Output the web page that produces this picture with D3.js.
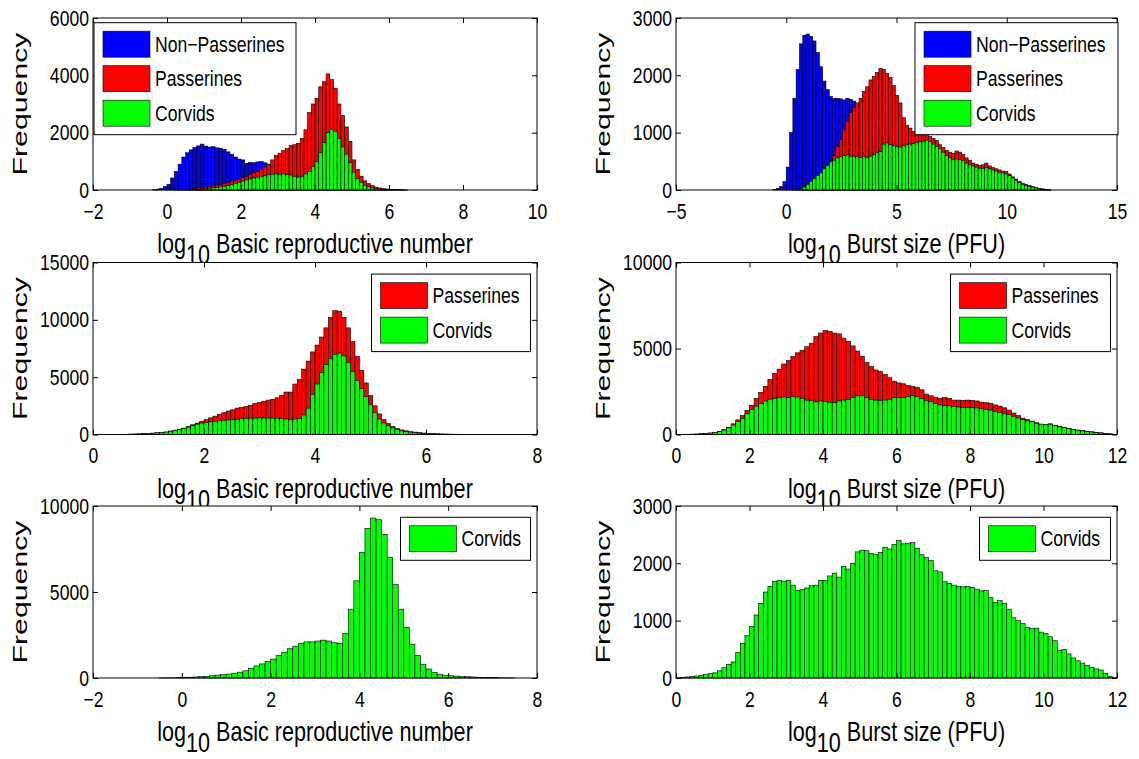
<!DOCTYPE html>
<html>
<head>
<meta charset="utf-8">
<script src="https://cdnjs.cloudflare.com/ajax/libs/d3/7.8.5/d3.min.js"></script>
<style>
  body { margin: 0; background: #fff; }
  svg { display: block; }
</style>
</head>
<body>
<div id="chart"></div>
<script>
// ---- Data: histogram counts ----

// Top left: log10 basic reproductive number, bins of 0.1 starting at -0.5
const r0TopStart = -0.5, r0TopBin = 0.1;
const r0NonPass = [0,10,30,60,120,200,420,650,900,1150,
  1300,1400,1480,1540,1600,1530,1500,1510,1470,1460,
  1420,1330,1250,1150,1080,1050,930,960,950,980,
  990,950,900,860,820,780,740,700,660,620,
  580,540,500,470,440,410,380,350,320,290,
  260,230,200,170,140,115,95,75,60,45,
  35,25,18,12,8,5,3,2,1,0];
const r0Pass = [0,0,0,0,0,0,0,5,10,15,
  25,35,50,70,90,110,130,150,170,190,
  220,260,300,340,380,430,480,540,600,650,
  720,800,900,1050,1200,1280,1380,1450,1560,1580,
  1620,1800,2100,2700,3000,3200,3600,3780,4050,3850,
  3550,3000,2600,2200,1700,1050,720,480,320,220,
  150,100,70,50,35,25,15,10,5,2];
const r0Corv = [0,0,0,0,0,0,0,0,2,5,
  8,12,18,25,35,45,60,75,90,110,
  130,160,190,230,270,310,350,390,420,450,
  480,500,530,550,560,550,560,540,520,480,
  450,480,560,650,820,1000,1300,1650,2000,2120,
  2050,1800,1500,1250,950,620,400,260,170,110,
  75,50,35,25,18,12,8,5,3,1];

// Top right: log10 burst size, bins of 0.15 starting at -0.6
const burstTopStart = -0.6, burstTopBin = 0.15;
const burstNonPass = [10,30,60,150,400,1000,1600,2100,2550,2700,
  2720,2680,2600,2400,2150,1900,1750,1630,1600,1600,
  1590,1570,1600,1580,1550,1490,1420,1360,1300,1240,
  1180,1120,1060,1000,950,900,850,800,750,700,
  660,620,580,540,500,470,440,410,380,350,
  320,300,280,260,240,220,200,185,170,155,
  140,125,115,105,95,85,75,65,58,50,
  44,38,32,27,22,18,14,11,8,6,
  4,3,2,1];
const burstPass = [0,0,0,0,0,0,5,10,20,35,
  55,80,110,160,230,320,420,520,600,760,
  880,1050,1200,1350,1440,1520,1600,1720,1800,1920,
  1980,2050,2120,2100,2030,1960,1820,1650,1520,1260,
  1130,1080,1020,990,980,990,980,930,900,860,
  790,740,690,660,640,680,660,620,560,520,
  470,450,430,440,470,420,390,370,350,330,
  320,280,230,190,150,120,100,80,60,45,
  30,20,10,3];
const burstCorv = [0,0,0,0,0,0,0,5,20,50,
  100,150,200,250,300,370,430,490,520,560,
  580,600,610,590,590,580,570,580,570,590,
  620,650,670,800,820,790,770,760,750,770,
  790,800,810,830,840,850,870,850,800,760,
  720,660,600,560,530,540,530,510,470,440,
  420,400,380,380,390,370,350,330,310,300,
  280,250,210,170,130,100,80,65,50,38,
  25,15,8,2];

// Middle left: bins of 0.08 starting at 0.4
const r0MidStart = 0.4, r0MidBin = 0.08;
const r0Pass2 = [10,15,20,30,40,55,75,100,120,150,
  180,220,300,380,460,560,700,850,1000,1150,
  1300,1450,1600,1750,1900,2050,2150,2300,2350,2450,
  2550,2700,2800,2900,3000,3050,3200,3400,3700,3700,
  4400,4800,5700,6400,7200,7800,8500,9300,10200,10800,
  10750,10200,9300,8100,6800,5600,4500,3400,2500,1800,
  1300,950,700,520,400,320,260,210,170,130,
  100,80,60,50,40,30,25,20,15,10,
  8,6,4,3,2];
const r0Corv2 = [8,12,18,25,35,50,65,85,110,140,
  170,210,280,350,430,520,640,770,900,1000,
  1050,1100,1150,1200,1250,1280,1300,1330,1380,1400,
  1420,1430,1450,1440,1440,1430,1420,1400,1350,1300,
  1350,1400,1700,2300,3500,4400,5400,6100,6600,7000,
  7100,6850,6300,5500,4700,4000,3300,2600,1900,1350,
  1000,750,580,420,320,250,200,160,120,95,
  70,55,40,30,25,20,15,10,8,6,
  5,4,3,2,1];

// Middle right: bins of 0.125 starting at 0
const burstMidStart = 0, burstMidBin = 0.125;
const burstPass2 = [0,5,10,15,25,40,60,85,120,180,
  280,420,620,850,1100,1400,1700,2100,2450,2800,
  3200,3550,3800,4100,4300,4550,4750,4900,5100,5300,
  5700,5900,6050,6000,5900,5850,5600,5400,5150,4850,
  4550,4200,3950,3750,3650,3500,3300,3100,3000,2950,
  2850,2800,2750,2600,2350,2250,2150,2100,2150,2100,
  2000,2000,1990,2000,1980,1950,1880,1850,1820,1720,
  1650,1550,1420,1250,1100,950,860,780,680,600,
  590,620,540,480,420,360,300,260,230,190,
  160,130,100,70,40,15];
const burstCorv2 = [0,5,10,15,25,40,60,85,115,170,
  260,390,560,750,950,1200,1450,1650,1800,1950,
  2050,2100,2150,2180,2150,2200,2180,2100,2000,1980,
  1900,1950,1920,1880,1850,1950,2000,2050,2150,2250,
  2250,2150,2050,2000,1980,2000,2050,2150,2150,2150,
  2200,2250,2200,2100,1980,1900,1800,1720,1680,1660,
  1620,1600,1570,1560,1560,1540,1500,1460,1420,1350,
  1280,1200,1150,1060,960,880,800,740,650,600,
  580,600,520,460,400,340,280,240,210,170,
  140,110,80,55,30,10];

// Bottom left: bins of 0.125 starting at -0.5
const r0BotStart = -0.5, r0BotBin = 0.125;
const r0Corv3 = [5,8,12,20,30,45,60,80,100,130,
  170,200,230,280,340,420,550,700,820,950,
  1100,1300,1500,1700,1850,2000,2100,2100,2150,2200,
  2150,2050,2000,2600,4000,5650,7300,8700,9300,9200,
  8350,7000,5450,4000,2950,1950,1300,800,520,330,
  220,160,130,110,90,75,60,45,35,25,
  18,12,8,5];

// Bottom right: bins of 0.125 starting at 0
const burstBotStart = 0, burstBotBin = 0.125;
const burstCorv3 = [5,10,18,25,35,45,60,75,90,125,
  180,240,280,450,600,740,900,1100,1300,1500,
  1600,1680,1700,1690,1700,1620,1530,1540,1570,1610,
  1620,1700,1700,1780,1830,1760,1950,1900,2000,2200,
  2230,2220,2170,2150,2190,2280,2250,2330,2400,2340,
  2350,2360,2260,2150,2100,2050,1870,1850,1680,1650,
  1620,1600,1590,1600,1580,1550,1520,1530,1400,1320,
  1350,1300,1200,1050,1000,950,880,860,870,800,
  780,720,650,480,500,420,350,300,260,220,
  180,160,140,80,30,5];

// Tick values
const r0TicksTop = [-2, 0, 2, 4, 6, 8, 10];
const burstTicksTop = [-5, 0, 5, 10, 15];
const r0TicksMid = [0, 2, 4, 6, 8];
const burstTicks = [0, 2, 4, 6, 8, 10, 12];
const r0TicksBot = [-2, 0, 2, 4, 6, 8];
const freqTicks6000 = [0, 2000, 4000, 6000];
const freqTicks3000 = [0, 1000, 2000, 3000];
const freqTicks15000 = [0, 5000, 10000, 15000];
const freqTicks10000 = [0, 5000, 10000];

const seriesNames = ["Non\u2212Passerines", "Passerines", "Corvids"];
const seriesColors = ["#0000ff", "#ff0000", "#00ff00"];

// ---- Layout ----
const width = 1139, height = 759;
const font = "'Liberation Sans', Arial, Helvetica, sans-serif";
const squeeze = 0.8; // the figure's text is horizontally condensed

const colLeft = [93, 676];
const colWidth = [444, 441];
const rowTop = [18, 262.5, 506];
const plotH = 172;

const svg = d3.select("#chart").append("svg")
  .attr("width", width)
  .attr("height", height);

svg.append("rect").attr("width", width).attr("height", height).attr("fill", "#fff");

// squeeze text horizontally while keeping its anchor point
function condense(sel) {
  sel.each(function () {
    const len = this.getComputedTextLength();
    if (len > 0) {
      d3.select(this)
        .attr("textLength", len * squeeze)
        .attr("lengthAdjust", "spacingAndGlyphs");
    }
  });
}

const panels = [
  { col: 0, row: 0, xDomain: [-2, 10], yDomain: [0, 6000], xTicks: r0TicksTop, yTicks: freqTicks6000,
    binStart: r0TopStart, binWidth: r0TopBin, series: [0, 1, 2], data: [r0NonPass, r0Pass, r0Corv],
    xLabel: " Basic reproductive number", legend: { anchor: "left", dx: 1, dy: 4.7, w: 202 } },
  { col: 1, row: 0, xDomain: [-5, 15], yDomain: [0, 3000], xTicks: burstTicksTop, yTicks: freqTicks3000,
    binStart: burstTopStart, binWidth: burstTopBin, series: [0, 1, 2], data: [burstNonPass, burstPass, burstCorv],
    xLabel: " Burst size (PFU)", legend: { anchor: "right", dx: 1, dy: 4.7, w: 203 } },
  { col: 0, row: 1, xDomain: [0, 8], yDomain: [0, 15000], xTicks: r0TicksMid, yTicks: freqTicks15000,
    binStart: r0MidStart, binWidth: r0MidBin, series: [1, 2], data: [r0Pass2, r0Corv2],
    xLabel: " Basic reproductive number", legend: { anchor: "right", dx: -6.5, dy: 11.6, w: 159 } },
  { col: 1, row: 1, xDomain: [0, 12], yDomain: [0, 10000], xTicks: burstTicks, yTicks: freqTicks10000,
    binStart: burstMidStart, binWidth: burstMidBin, series: [1, 2], data: [burstPass2, burstCorv2],
    xLabel: " Burst size (PFU)", legend: { anchor: "right", dx: -6.5, dy: 11.6, w: 160 } },
  { col: 0, row: 2, xDomain: [-2, 8], yDomain: [0, 10000], xTicks: r0TicksBot, yTicks: freqTicks10000,
    binStart: r0BotStart, binWidth: r0BotBin, series: [2], data: [r0Corv3],
    xLabel: " Basic reproductive number", legend: { anchor: "right", dx: -6.5, dy: 11.3, w: 130 } },
  { col: 1, row: 2, xDomain: [0, 12], yDomain: [0, 3000], xTicks: burstTicks, yTicks: freqTicks3000,
    binStart: burstBotStart, binWidth: burstBotBin, series: [2], data: [burstCorv3],
    xLabel: " Burst size (PFU)", legend: { anchor: "right", dx: -6.5, dy: 11.3, w: 131 } }
];

panels.forEach(drawPanel);

function drawPanel(p) {
  const left = colLeft[p.col], w = colWidth[p.col];
  const top = rowTop[p.row], bottom = top + plotH;

  const x = d3.scaleLinear().domain(p.xDomain).range([left, left + w]);
  const y = d3.scaleLinear().domain(p.yDomain).range([bottom, top]);

  const g = svg.append("g").attr("class", "panel");

  // White axes background (covers the label of the panel above)
  g.append("rect")
    .attr("x", left).attr("y", top)
    .attr("width", w).attr("height", plotH)
    .attr("fill", "#fff");

  // Histogram bars, drawn in series order so later series overlay earlier ones
  p.data.forEach((values, k) => {
    const color = seriesColors[p.series[k]];
    g.append("g")
      .selectAll("rect")
      .data(values)
      .join("rect")
      .attr("x", (d, i) => x(p.binStart + i * p.binWidth))
      .attr("width", (d, i) => x(p.binStart + (i + 1) * p.binWidth) - x(p.binStart + i * p.binWidth))
      .attr("y", (d) => y(d))
      .attr("height", (d) => y(0) - y(d))
      .attr("fill", color)
      .attr("stroke", "#000")
      .attr("stroke-width", 0.6);
  });

  // Axes with inward ticks on all four sides
  const fmt = d3.format("d");
  const bottomAxis = g.append("g")
    .attr("transform", `translate(0,${bottom})`)
    .call(d3.axisBottom(x).tickValues(p.xTicks).tickSizeInner(-5).tickSizeOuter(0).tickPadding(13).tickFormat(fmt));
  g.append("g")
    .attr("transform", `translate(0,${top})`)
    .call(d3.axisTop(x).tickValues(p.xTicks).tickSizeInner(-5).tickSizeOuter(0).tickFormat(""));
  const leftAxis = g.append("g")
    .attr("transform", `translate(${left},0)`)
    .call(d3.axisLeft(y).tickValues(p.yTicks).tickSizeInner(-5).tickSizeOuter(0).tickPadding(4).tickFormat(fmt));
  g.append("g")
    .attr("transform", `translate(${left + w},0)`)
    .call(d3.axisRight(y).tickValues(p.yTicks).tickSizeInner(-5).tickSizeOuter(0).tickFormat(""));

  g.selectAll(".domain").remove();
  [bottomAxis, leftAxis].forEach((a) => {
    a.attr("font-family", font).attr("font-size", 22);
    a.selectAll("text").attr("fill", "#000").call(condense);
  });

  // Box
  g.append("rect")
    .attr("x", left).attr("y", top)
    .attr("width", w).attr("height", plotH)
    .attr("fill", "none")
    .attr("stroke", "#000")
    .attr("stroke-width", 1);

  // Y label
  g.append("text")
    .attr("transform", `translate(${left - 73},${(top + bottom) / 2}) rotate(-90)`)
    .attr("text-anchor", "middle")
    .attr("dy", "0.35em")
    .attr("font-family", font)
    .attr("font-size", 21)
    .attr("textLength", 143)
    .attr("lengthAdjust", "spacingAndGlyphs")
    .text("Frequency");

  // X label with subscript, squeezed horizontally around its centre
  const xl = g.append("g")
    .attr("transform", `translate(${left + w / 2},${bottom + 63}) scale(${squeeze},1)`)
    .append("text")
    .attr("text-anchor", "middle")
    .attr("font-family", font)
    .attr("font-size", 27);
  xl.append("tspan").text("log");
  xl.append("tspan").attr("dy", 11).text("10");
  xl.append("tspan").attr("dy", -11).text(p.xLabel);

  // Legend
  const lg = p.legend;
  const n = p.series.length;
  const boxH = 17 + 26 + 34.5 * (n - 1);
  const lx = lg.anchor === "left" ? left + lg.dx : left + w + lg.dx - lg.w;
  const ly = top + lg.dy;
  const leg = g.append("g").attr("transform", `translate(${lx},${ly})`);
  leg.append("rect")
    .attr("width", lg.w).attr("height", boxH)
    .attr("fill", "#fff").attr("stroke", "#000").attr("stroke-width", 1);
  const items = leg.selectAll("g.item")
    .data(p.series)
    .join("g")
    .attr("class", "item")
    .attr("transform", (d, i) => `translate(9,${8.5 + i * 34.5})`);
  items.append("rect")
    .attr("width", 47).attr("height", 26)
    .attr("fill", (d) => seriesColors[d])
    .attr("stroke", "#000").attr("stroke-width", 0.6);
  items.append("text")
    .attr("x", 52).attr("y", 13)
    .attr("dy", "0.35em")
    .attr("font-family", font)
    .attr("font-size", 22)
    .text((d) => seriesNames[d])
    .call(condense);
}
</script>
</body>
</html>
